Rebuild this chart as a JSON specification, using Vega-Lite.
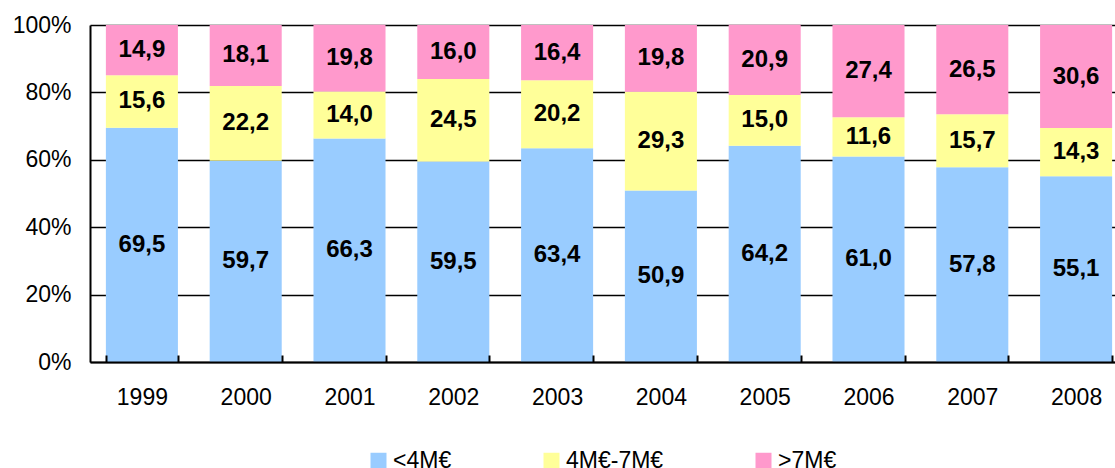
{
  "$schema": "https://vega.github.io/schema/vega-lite/v6.json",
  "width": 1025,
  "height": 337,
  "autosize": {"type": "none"},
  "padding": {"left": 90, "top": 25, "right": 0, "bottom": 106},
  "background": "white",
  "config": {
    "view": {"stroke": null},
    "font": "Liberation Sans",
    "locale": {"number": {"decimal": ",", "thousands": ".", "grouping": [3], "currency": ["", " €"]}},
    "axis": {"labelFont": "Liberation Sans", "labelColor": "black", "labelFontSize": 23, "title": null}
  },
  "data": {
    "values": [
      {"year": "1999", "cat": "<4M€", "rank": 1, "v": 69.5},
      {"year": "1999", "cat": "4M€-7M€", "rank": 2, "v": 15.6},
      {"year": "1999", "cat": ">7M€", "rank": 3, "v": 14.9},
      {"year": "2000", "cat": "<4M€", "rank": 1, "v": 59.7},
      {"year": "2000", "cat": "4M€-7M€", "rank": 2, "v": 22.2},
      {"year": "2000", "cat": ">7M€", "rank": 3, "v": 18.1},
      {"year": "2001", "cat": "<4M€", "rank": 1, "v": 66.3},
      {"year": "2001", "cat": "4M€-7M€", "rank": 2, "v": 14.0},
      {"year": "2001", "cat": ">7M€", "rank": 3, "v": 19.8},
      {"year": "2002", "cat": "<4M€", "rank": 1, "v": 59.5},
      {"year": "2002", "cat": "4M€-7M€", "rank": 2, "v": 24.5},
      {"year": "2002", "cat": ">7M€", "rank": 3, "v": 16.0},
      {"year": "2003", "cat": "<4M€", "rank": 1, "v": 63.4},
      {"year": "2003", "cat": "4M€-7M€", "rank": 2, "v": 20.2},
      {"year": "2003", "cat": ">7M€", "rank": 3, "v": 16.4},
      {"year": "2004", "cat": "<4M€", "rank": 1, "v": 50.9},
      {"year": "2004", "cat": "4M€-7M€", "rank": 2, "v": 29.3},
      {"year": "2004", "cat": ">7M€", "rank": 3, "v": 19.8},
      {"year": "2005", "cat": "<4M€", "rank": 1, "v": 64.2},
      {"year": "2005", "cat": "4M€-7M€", "rank": 2, "v": 15.0},
      {"year": "2005", "cat": ">7M€", "rank": 3, "v": 20.9},
      {"year": "2006", "cat": "<4M€", "rank": 1, "v": 61.0},
      {"year": "2006", "cat": "4M€-7M€", "rank": 2, "v": 11.6},
      {"year": "2006", "cat": ">7M€", "rank": 3, "v": 27.4},
      {"year": "2007", "cat": "<4M€", "rank": 1, "v": 57.8},
      {"year": "2007", "cat": "4M€-7M€", "rank": 2, "v": 15.7},
      {"year": "2007", "cat": ">7M€", "rank": 3, "v": 26.5},
      {"year": "2008", "cat": "<4M€", "rank": 1, "v": 55.1},
      {"year": "2008", "cat": "4M€-7M€", "rank": 2, "v": 14.3},
      {"year": "2008", "cat": ">7M€", "rank": 3, "v": 30.6}
    ]
  },
  "encoding": {
    "x": {
      "field": "year", "type": "ordinal",
      "scale": {"range": [0, 1038], "paddingInner": 0.306, "paddingOuter": 0.153},
      "axis": {
        "labelAngle": 0, "domainColor": "black", "domainWidth": 2,
        "tickColor": "black", "tickWidth": 2, "tickSize": -7, "tickBand": "extent",
        "labelPadding": 31, "zindex": 1
      }
    },
    "y": {
      "field": "v", "type": "quantitative", "stack": "zero",
      "scale": {"domain": [0, 100], "nice": false},
      "axis": {
        "values": [0, 20, 40, 60, 80, 100],
        "labelExpr": "datum.value + '%'",
        "grid": true, "gridColor": "black", "gridWidth": 1.5,
        "domainColor": "black", "domainWidth": 2,
        "ticks": false, "labelPadding": 19, "zindex": 0
      }
    },
    "order": {"field": "rank", "type": "quantitative"}
  },
  "layer": [
    {
      "mark": {"type": "bar"},
      "encoding": {
        "color": {
          "field": "cat", "type": "nominal",
          "scale": {"domain": ["<4M€", "4M€-7M€", ">7M€"], "range": ["#99CCFF", "#FFFF99", "#FF99CC"]},
          "legend": {
            "title": null, "orient": "none", "direction": "horizontal",
            "legendX": 277, "legendY": 424, "padding": 0,
            "symbolType": "square", "symbolSize": 256, "symbolStrokeWidth": 0, "symbolOpacity": 1,
            "labelFont": "Liberation Sans", "labelFontSize": 23, "labelColor": "black",
            "labelOffset": 3, "columnPadding": 88, "labelLimit": 300
          }
        }
      }
    },
    {
      "mark": {"type": "text", "font": "Liberation Sans", "fontSize": 24, "fontWeight": "bold", "color": "black", "baseline": "middle"},
      "encoding": {
        "y": {"field": "v", "type": "quantitative", "stack": "zero", "bandPosition": 0.5},
        "detail": {"field": "cat"},
        "text": {"field": "v", "type": "quantitative", "format": ".1f"}
      }
    }
  ]
}
